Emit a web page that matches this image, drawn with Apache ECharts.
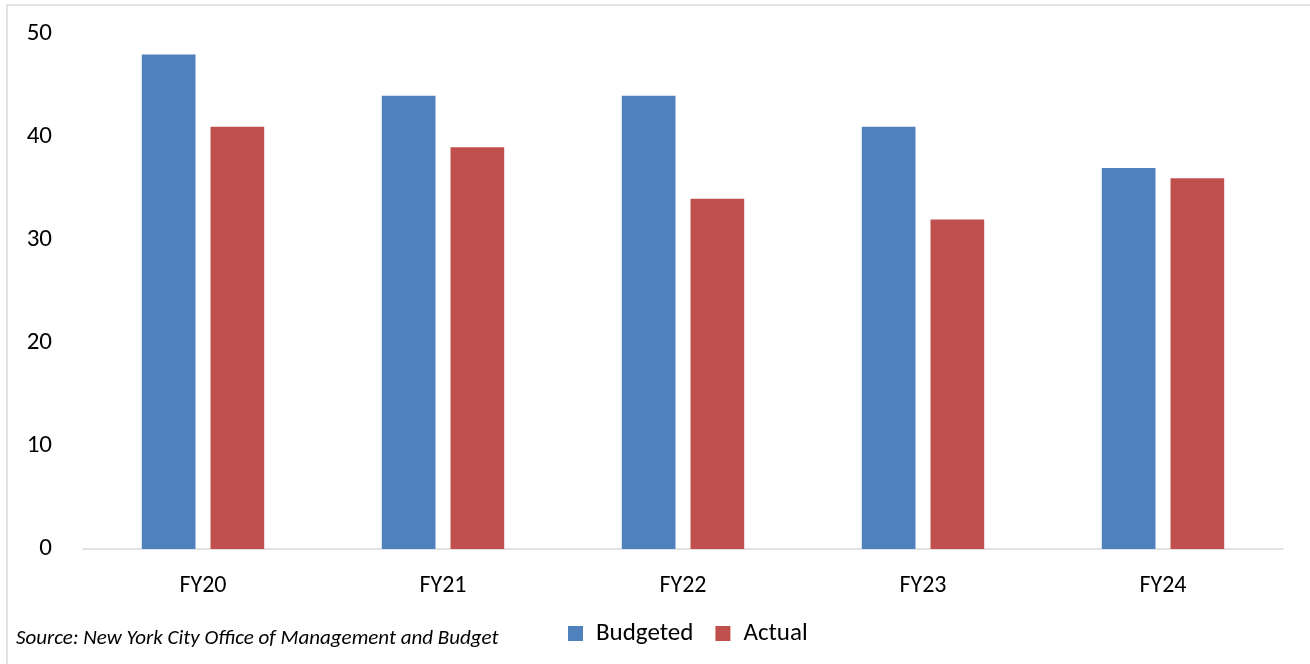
<!DOCTYPE html>
<html>
<head>
<meta charset="utf-8">
<script src="https://cdn.jsdelivr.net/npm/echarts@6/dist/echarts.min.js"></script>
<style>
  html, body { margin: 0; padding: 0; background: #fff; }
  #chart { width: 1310px; height: 664px; }
</style>
</head>
<body>
<div id="chart"></div>
<script>
// fiscal years and values
var categories = ['FY20', 'FY21', 'FY22', 'FY23', 'FY24'];
var budgeted = [48, 44, 44, 41, 37];
var actual = [41, 39, 34, 32, 36];
var yTicks = [0, 10, 20, 30, 40, 50];
var sourceNote = 'Source: New York City Office of Management and Budget';

var font = 'Carlito, Lato, "Open Sans", sans-serif';

var myChart = echarts.init(document.getElementById('chart'));
var option = {
  animation: false,
  textStyle: { fontFamily: font },
  graphic: [
    {
      // outer frame of the chart
      type: 'rect',
      shape: { x: 7, y: 5, width: 1320, height: 680 },
      style: { fill: 'none', stroke: '#d9d9d9', lineWidth: 1.5 },
      silent: true
    },
    {
      type: 'text',
      left: 16,
      top: 628,
      style: {
        text: sourceNote,
        font: 'italic 21px ' + font,
        fill: '#000'
      }
    }
  ],
  legend: {
    data: ['Budgeted', 'Actual'],
    left: 563,
    top: 616,
    itemWidth: 15,
    itemHeight: 15,
    itemGap: 22,
    icon: 'rect',
    textStyle: { fontSize: 25, color: '#000', fontFamily: font, padding: [0, 0, 0, 8] }
  },
  grid: {
    left: 83,
    right: 27,
    top: 34,
    bottom: 115,
    containLabel: false
  },
  xAxis: {
    type: 'category',
    data: categories,
    axisLine: { lineStyle: { color: '#d9d9d9', width: 1.5 } },
    axisTick: { show: false },
    axisLabel: { fontSize: 24, color: '#000', margin: 25, fontFamily: font }
  },
  yAxis: {
    type: 'value',
    min: yTicks[0],
    max: yTicks[yTicks.length - 1],
    interval: yTicks[1] - yTicks[0],
    splitLine: { show: false },
    axisLine: { show: false },
    axisTick: { show: false },
    axisLabel: { fontSize: 25, color: '#000', margin: 31, fontFamily: font }
  },
  series: [
    {
      name: 'Budgeted',
      type: 'bar',
      data: budgeted,
      barGap: '28%',
      barCategoryGap: '49%',
      itemStyle: { color: '#4f81bd' }
    },
    {
      name: 'Actual',
      type: 'bar',
      data: actual,
      itemStyle: { color: '#c0504d' }
    }
  ]
};
myChart.setOption(option);
</script>
</body>
</html>
